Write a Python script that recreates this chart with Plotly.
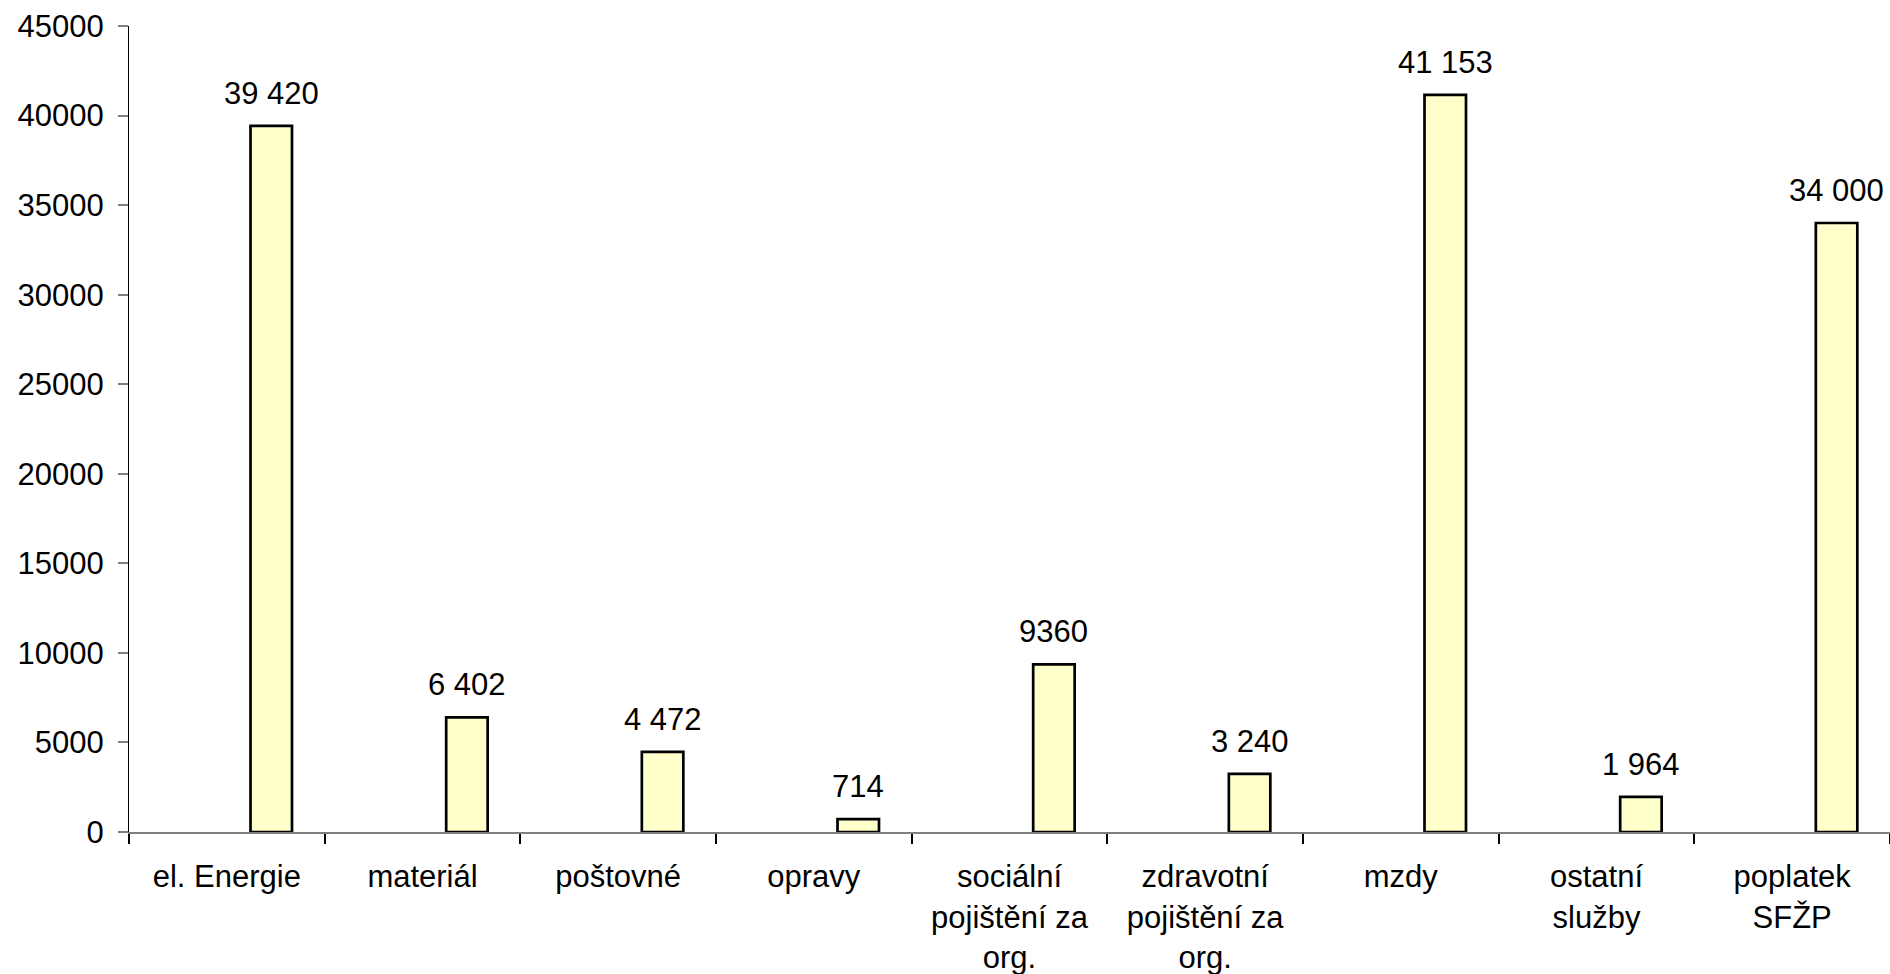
import plotly.graph_objects as go

categories = ["el. Energie", "materiál", "poštovné", "opravy",
              "sociální<br>pojištění za<br>org.", "zdravotní<br>pojištění za<br>org.",
              "mzdy", "ostatní<br>služby", "poplatek<br>SFŽP"]
values = [39420, 6402, 4472, 714, 9360, 3240, 41153, 1964, 34000]
value_labels = ["39 420", "6 402", "4 472", "714", "9360", "3 240", "41 153", "1 964", "34 000"]
y_ticks = [0, 5000, 10000, 15000, 20000, 25000, 30000, 35000, 40000, 45000]

FONT = "Liberation Sans, Arial, sans-serif"
W, H = 1890, 974
ML, MR, MT, MB = 129, 0, 26, 142
BAR_W = 0.212
BAR_OFF = 0.121
cat_px = (W - ML - MR) / len(categories)

fig = go.Figure()
fig.add_trace(go.Bar(
    x=categories, y=values,
    width=BAR_W, offset=BAR_OFF,
    marker=dict(color="#FFFFCC", line=dict(color="#000000", width=2.7)),
    hoverinfo="skip",
))

for c, v, t in zip(categories, values, value_labels):
    fig.add_annotation(
        x=c, y=v, text=t, showarrow=False,
        xanchor="center", yanchor="bottom",
        xshift=(BAR_OFF + BAR_W / 2) * cat_px, yshift=13,
        font=dict(family=FONT, size=31, color="#000000"),
    )

fig.update_layout(
    width=W, height=H,
    margin=dict(l=ML, r=MR, t=MT, b=MB, pad=0, autoexpand=False),
    paper_bgcolor="white", plot_bgcolor="white",
    showlegend=False,
    font=dict(family=FONT, size=31, color="#000000"),
)
fig.update_xaxes(
    type="category", range=[-0.5, 8.5], automargin=False,
    showline=True, linecolor="#808080", linewidth=2,
    ticks="outside", tickson="boundaries", ticklen=10, tickcolor="#000000", tickwidth=1.5,
    showgrid=False, zeroline=False,
    tickfont=dict(family=FONT, size=31, color="#000000"),
    ticklabelstandoff=16,
)
fig.update_yaxes(
    range=[0, 45000], tickvals=y_ticks, ticktext=[str(v) for v in y_ticks], automargin=False,
    showline=True, linecolor="#000000", linewidth=1.2,
    ticks="outside", ticklen=10, tickcolor="#808080", tickwidth=1.5,
    showgrid=False, zeroline=False,
    tickfont=dict(family=FONT, size=31, color="#000000"),
    ticklabelstandoff=8,
)

fig.write_html("out.html", config={"displayModeBar": False},
               post_script="document.body.style.margin='0';document.body.style.overflow='hidden';")
